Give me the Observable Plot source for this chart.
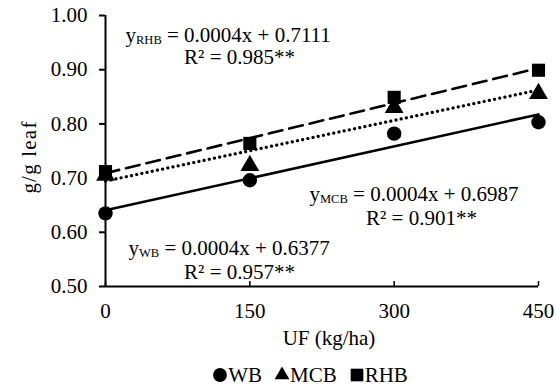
<!DOCTYPE html>
<html>
<head>
<meta charset="utf-8">
<script src="https://cdn.jsdelivr.net/npm/d3@7"></script>
<script src="https://cdn.jsdelivr.net/npm/@observablehq/plot@0.6"></script>
<style>
  html, body { margin: 0; padding: 0; background: #fff; }
  #wrap { width: 556px; height: 389px; font-family: "Liberation Serif", "Times New Roman", serif; }
  #legend { display: flex; justify-content: center; align-items: center; font-size: 21px; color: #000; height: 34px; margin-left: 64px; margin-top: 3px; }
  #legend .item { display: flex; align-items: center; margin: 0 6px; }
  #legend svg { margin-right: 0px; }
</style>
</head>
<body>
<div id="wrap"><div id="chart"></div><div id="legend"></div></div>
<script>
// ---- data ----
const uf = [0, 150, 300, 450];
const seriesNames = ["WB", "MCB", "RHB"];
const wb  = [0.635, 0.696, 0.782, 0.803];
const mcb = [0.705, 0.723, 0.830, 0.856];
const rhb = [0.712, 0.764, 0.849, 0.899];
const yTicks = [0.5, 0.6, 0.7, 0.8, 0.9, 1.0];
const xTicks = [0, 150, 300, 450];
const yLabel = "g/g leaf";
const xLabel = "UF (kg/ha)";
const eqLines = {
  RHB: ["yRHB = 0.0004x + 0.7111", "R² = 0.985**"],
  MCB: ["yMCB = 0.0004x + 0.6987", "R² = 0.901**"],
  WB:  ["yWB = 0.0004x + 0.6377", "R² = 0.957**"]
};

const valuesBySeries = {WB: wb, MCB: mcb, RHB: rhb};
const rows = seriesNames.flatMap(s => uf.map((x, i) => ({series: s, x, y: valuesBySeries[s][i]})));
const of = s => rows.filter(d => d.series === s);

const dash = {WB: null, MCB: "0.1,5.2", RHB: "14,7"};
const symbols = {WB: "circle", MCB: "triangle", RHB: "square"};
const rs = {WB: 7.2, MCB: 7.0, RHB: 7.4};

const font = "Liberation Serif";
const fs = 21;

const marks = [
  Plot.ruleX([0], {stroke: "black", strokeWidth: 2}),
  Plot.ruleY([0.5], {stroke: "black", strokeWidth: 2}),
  Plot.axisY({ticks: yTicks, tickFormat: d3.format(".2f"), tickSize: 6, tickPadding: 12, fontSize: fs, label: null, strokeWidth: 2}),
  Plot.axisX({ticks: xTicks, tickSize: -5, tickFormat: () => "", label: null, strokeWidth: 1.5}),
  Plot.axisX({ticks: xTicks, tickSize: 0, tickPadding: 17, fontSize: fs, label: null}),
  Plot.text([xLabel], {frameAnchor: "bottom", text: d => d, textAnchor: "middle", lineAnchor: "middle", dx: 7, dy: 52, fontSize: fs, fill: "black"}),
  Plot.text([yLabel], {frameAnchor: "left", text: d => d, textAnchor: "middle", lineAnchor: "middle", rotate: -90, dx: -76, dy: 6, fontSize: fs, fill: "black"}),
];
for (const s of seriesNames) {
  const o = {x: "x", y: "y", stroke: "black", strokeWidth: 2.6, ci: 0};
  if (dash[s]) o.strokeDasharray = dash[s];
  if (s === "MCB") { o.strokeLinecap = "round"; o.strokeWidth = 3.2; }
  marks.push(Plot.linearRegressionY(of(s), o));
}
for (const s of ["MCB", "WB", "RHB"]) {
  marks.push(Plot.dot(of(s), {x: "x", y: "y", symbol: () => symbols[s], r: rs[s], fill: "black", stroke: "none"}));
}
// equation annotations: [start x of line 1, centre x of line 2, y line 1, y line 2]
const eqPos = {RHB: [20.8, 139.3, 0.964, 0.923], MCB: [212, 328.4, 0.671, 0.626], WB: [23.9, 139.3, 0.571, 0.527]};
for (const s of ["RHB", "MCB", "WB"]) {
  const [sx, cx, ey1, ey2] = eqPos[s];
  marks.push(Plot.text([eqLines[s][0]], {x: sx, y: ey1, text: d => d, fontSize: fs, textAnchor: "start", fill: "black"}));
  marks.push(Plot.text([eqLines[s][1]], {x: cx, y: ey2, text: d => d, fontSize: fs, textAnchor: "middle", fill: "black"}));
}

const chart = Plot.plot({
  width: 556,
  height: 355,
  marginTop: 15,
  marginBottom: 69,
  marginLeft: 105,
  marginRight: 18,
  style: {fontFamily: font, color: "black", background: "white", fontSize: fs + "px"},
  x: {domain: [0, 450]},
  y: {domain: [0.5, 1.0]},
  marks
});
document.getElementById("chart").appendChild(chart);

// subscripts on equation labels; widen axis titles slightly
chart.querySelectorAll("text").forEach(t => {
  if (t.textContent === yLabel) t.setAttribute("letter-spacing", "1.2");
  const m = /^y(WB|MCB|RHB) (.*)$/.exec(t.textContent);
  if (!m) return;
  while (t.firstChild) t.removeChild(t.firstChild);
  const ns = "http://www.w3.org/2000/svg";
  const a = document.createElementNS(ns, "tspan"); a.textContent = "y";
  const b = document.createElementNS(ns, "tspan"); b.textContent = m[1];
  b.setAttribute("font-size", "12.5"); b.setAttribute("dy", "2");
  const c = document.createElementNS(ns, "tspan"); c.textContent = " " + m[2];
  c.setAttribute("dy", "-2");
  t.append(a, b, c);
});

// legend
const legend = document.getElementById("legend");
for (const s of seriesNames) {
  const item = document.createElement("div"); item.className = "item";
  const svg = d3.create("svg").attr("width", 16).attr("height", 16);
  const sym = {circle: d3.symbolCircle, triangle: d3.symbolTriangle, square: d3.symbolSquare}[symbols[s]];
  const size = {circle: 150, triangle: 95, square: 160}[symbols[s]];
  svg.append("path").attr("transform", "translate(8,8)").attr("d", d3.symbol(sym, size)()).attr("fill", "black");
  item.appendChild(svg.node());
  const lab = document.createElement("span"); lab.textContent = s;
  item.appendChild(lab);
  legend.appendChild(item);
}
</script>
</body>
</html>
